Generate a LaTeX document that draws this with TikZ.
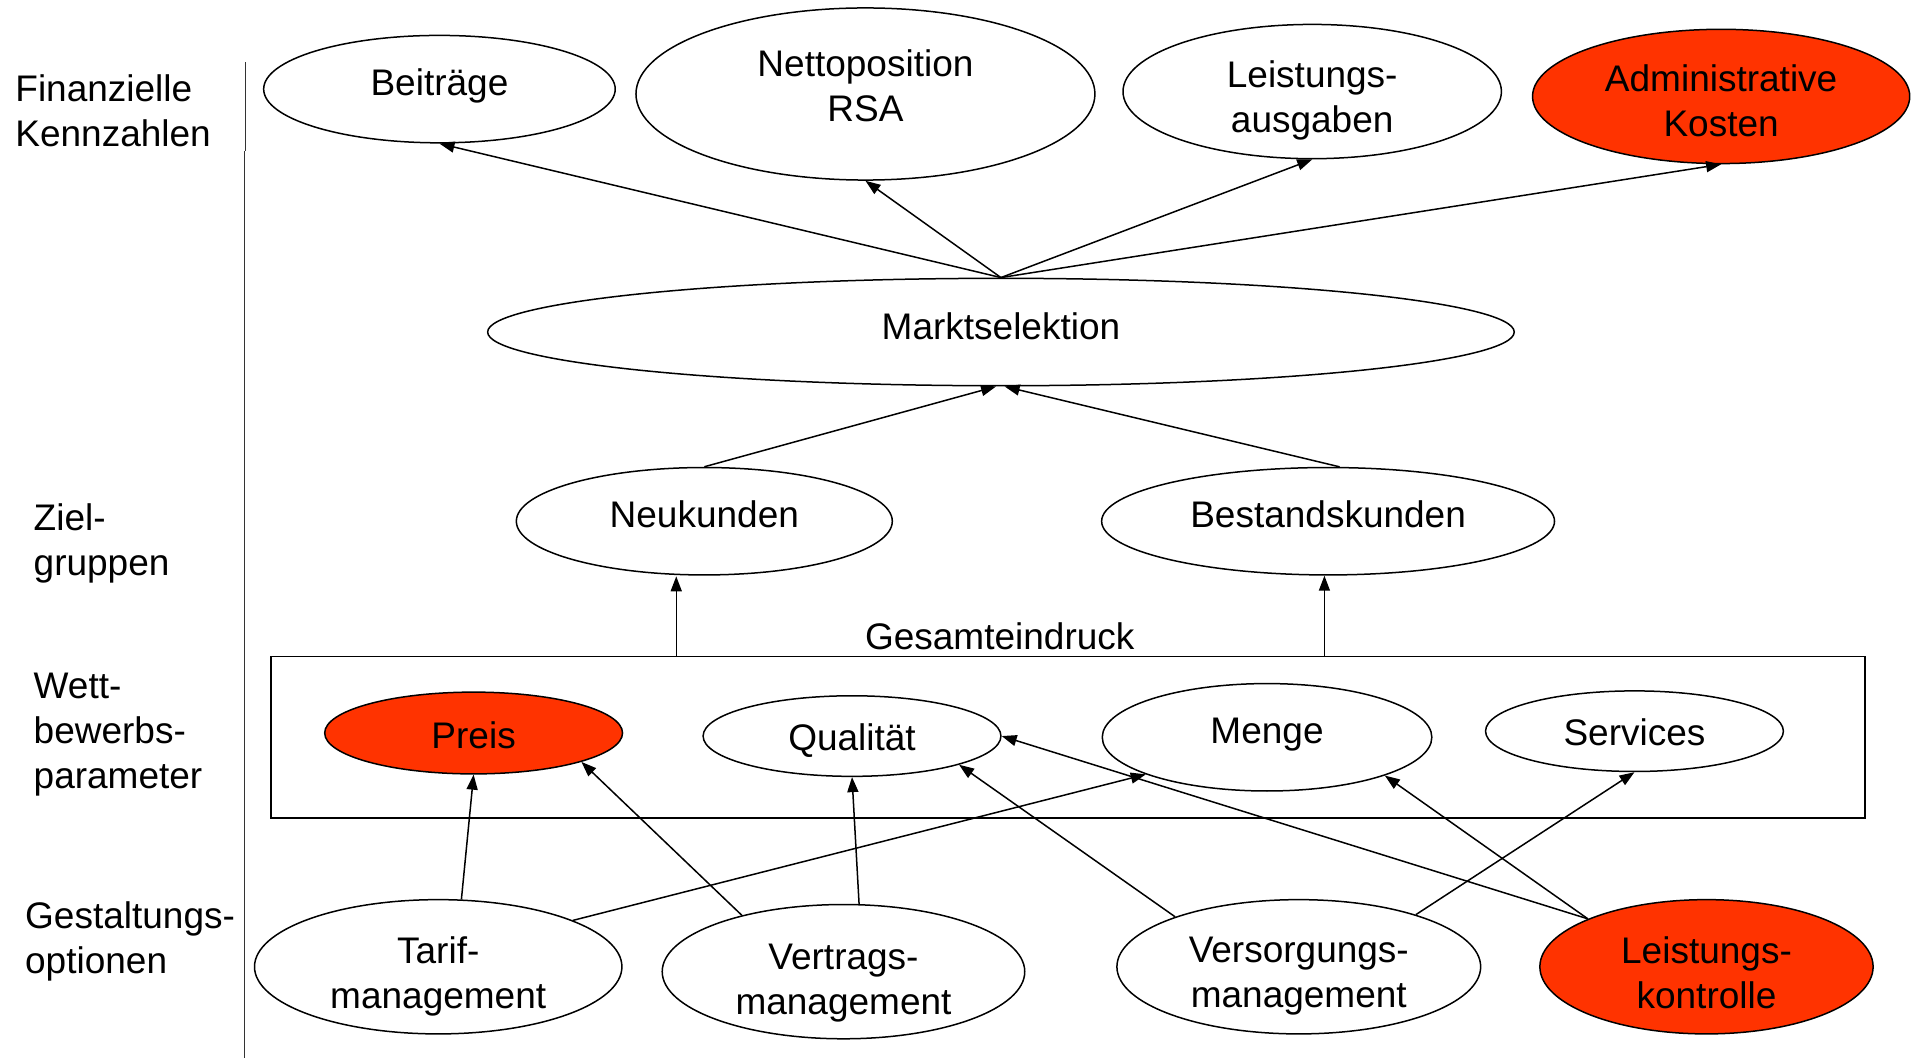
\documentclass[tikz,border=0pt]{standalone}
\usepackage{fontspec}
\setmainfont{Liberation Sans}
\usetikzlibrary{shapes.geometric,arrows.meta,calc}
\definecolor{hired}{RGB}{255,51,0}
\begin{document}
\begin{tikzpicture}[x=0.61035pt, y=-0.61035pt,
  font=\fontsize{18.5}{22.5}\selectfont, line width=0.75pt,
  oval/.style={ellipse, draw, inner sep=0pt},
  sz/.style 2 args={minimum width=#1*0.61035pt, minimum height=#2*0.61035pt},
  hot/.style={fill=hired},
  arr/.style={-{Triangle[length=7.5pt,width=5.5pt]}},
  side/.style={anchor=west, align=left, inner sep=0pt}]
\useasboundingbox (0,0) rectangle (1568,867);

% separator line
\coordinate (s1) at (201.5,51);
\coordinate (s2) at (201.5,124);
\coordinate (s3) at (200.5,124);
\coordinate (s4) at (200.5,867);
\draw[line width=0.5pt, black!80] (s1) -- (s2);
\draw[line width=0.5pt, black!80] (s3) -- (s4);

% left labels
\node[side] (l1) at (12,90.5) {Finanzielle\\Kennzahlen};
\node[side] (l2) at (27,445.5) {Ziel-\\gruppen};
\node[side] (l3) at (27,602) {Wett-\\bewerbs-\\parameter};
\node[side] (l4) at (20,771.5) {Gestaltungs-\\optionen};

% top row
\node[oval, sz={288}{88}, label={[name=tb, yshift=1.83pt]center:Beiträge}] (beit) at (360,73) {};
\node[oval, sz={376}{141}, label={[name=tn, align=center, yshift=4pt]center:{Nettoposition\\RSA}}] (netto) at (709,77) {};
\node[oval, sz={310}{110}, label={[name=tl, align=center, yshift=-4.6pt]center:{Leistungs-\\ausgaben}}] (la) at (1075,75) {};
\node[oval, hot, sz={309}{110}, label={[name=ta, align=center, yshift=-2.1pt]center:{Administrative\\Kosten}}] (ak) at (1410,79) {};

% Marktselektion
\node[oval, sz={841}{88}, label={[name=tm, yshift=3.05pt]center:Marktselektion}] (ms) at (820,272) {};

% Zielgruppen
\node[oval, sz={308}{88}, label={[name=tnk, yshift=3.66pt]center:Neukunden}] (nk) at (577,427) {};
\node[oval, sz={371}{88}, label={[name=tbk, yshift=3.66pt]center:Bestandskunden}] (bk) at (1088,427) {};

% box
\node[draw, inner sep=0pt, minimum width=1306*0.61035pt, minimum height=132*0.61035pt] (box) at (875,604) {};
\node (ge) at (819,521) {Gesamteindruck};

% Wettbewerbsparameter
\node[oval, hot, sz={244}{67}, label={[name=tp, yshift=-1.2pt]center:Preis}] (preis) at (388,600.5) {};
\node[oval, sz={244}{66}, label={[name=tq, yshift=-2.44pt]center:Qualität}] (qual) at (698,603) {};
\node[oval, sz={270}{88}, label={[name=tme, yshift=1.2pt]center:Menge}] (menge) at (1038,604) {};
\node[oval, sz={244}{66}, label={[name=ts, yshift=-0.6pt]center:Services}] (serv) at (1339,599) {};

% Gestaltungsoptionen
\node[oval, sz={301}{110}, label={[name=tt, align=center, yshift=-4.9pt]center:{Tarif-\\management}}] (tarif) at (359,792) {};
\node[oval, sz={297}{110}, label={[name=tv, align=center, yshift=-5.5pt]center:{Vertrags-\\management}}] (vert) at (691,796) {};
\node[oval, sz={298}{110}, label={[name=tvs, align=center, yshift=-4.9pt]center:{Versorgungs-\\management}}] (vers) at (1064,792) {};
\node[oval, hot, sz={273}{110}, label={[name=tlk, align=center, yshift=-3pt]center:{Leistungs-\\kontrolle}}] (lk) at (1398,792) {};

% connectors
\draw[arr] (ms.north) -- (beit.south);
\draw[arr] (ms.north) -- (netto.south);
\draw[arr] (ms.north) -- (la.south);
\draw[arr] (ms.north) -- (ak.south);
\draw[arr] (nk.north) -- ($(ms.south)+(-4,0)$);
\draw[arr] (bk.78) -- ($(ms.south)+(3,0)$);
\coordinate (nkb) at ($(nk.south)+(-23,0.5)$);
\draw[arr] (box.north -| nkb) -- (nkb);
\coordinate (bkb) at ($(bk.south)+(-3,0)$);
\draw[arr] (box.north -| bkb) -- (bkb);
\draw[arr] (tarif.71) -- (preis.south);
\draw[arr] (tarif.19) -- (menge.197);
\draw[arr] (vert.151) -- (preis.345);
\draw[arr] (vert.77) -- (qual.south);
\draw[arr] (vers.158) -- (qual.345);
\draw[arr] (vers.24) -- (serv.south);
\draw[arr] (lk.158) -- (qual.east);
\draw[arr] (lk.158) -- (menge.342);
\end{tikzpicture}
\end{document}
